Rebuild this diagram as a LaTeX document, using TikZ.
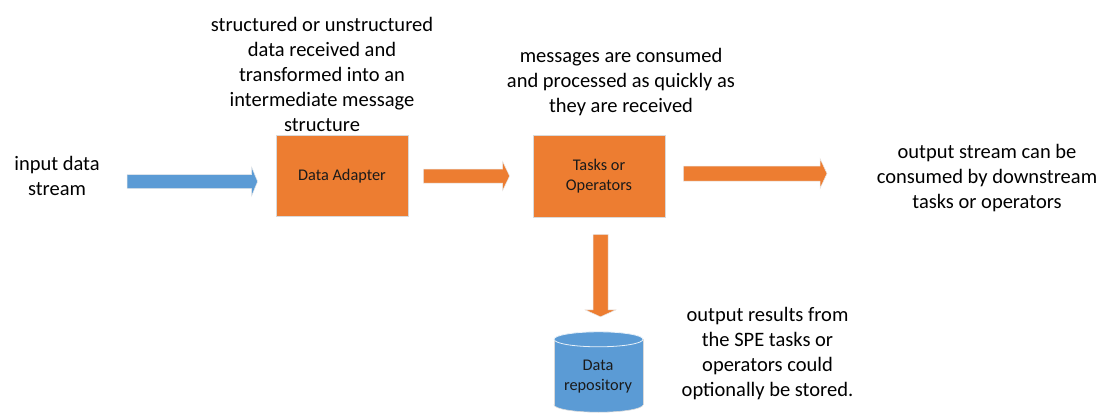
\documentclass[tikz,border=0pt]{standalone}
\usepackage{fontspec}
\setmainfont{Carlito}
\usetikzlibrary{calc}
\definecolor{accent}{HTML}{ED7D31}
\definecolor{flow}{HTML}{5B9BD5}
\definecolor{rim}{HTML}{D9D9D9}
\definecolor{ink}{HTML}{1A1A1A}

% horizontal block arrow: #1 tail, #2 tip, #3 colour, #4 shaft half, #5 head half, #6 head length
\newcommand\hblock[6]{%
  \path[blockarrow,fill=#3] let \p1=(#1), \p2=(#2) in
    (\x1,{\y1+#4pt}) -- ({\x2-#6pt},{\y1+#4pt}) -- ({\x2-#6pt},{\y1+#5pt}) --
    (\x2,\y1) -- ({\x2-#6pt},{\y1-#5pt}) -- ({\x2-#6pt},{\y1-#4pt}) --
    (\x1,{\y1-#4pt}) -- cycle;}
% vertical block arrow pointing down
\newcommand\vblock[6]{%
  \path[blockarrow,fill=#3] let \p1=(#1), \p2=(#2) in
    ({\x1-#4pt},\y1) -- ({\x1-#4pt},{\y2+#6pt}) -- ({\x1-#5pt},{\y2+#6pt}) --
    (\x1,\y2) -- ({\x1+#5pt},{\y2+#6pt}) -- ({\x1+#4pt},{\y2+#6pt}) --
    ({\x1+#4pt},\y1) -- cycle;}

\begin{document}
\begin{tikzpicture}[x=1pt,y=-1pt,
  note/.style={align=center,font=\fontsize{20.5}{25}\selectfont,text=black,inner sep=0pt},
  procbox/.style={draw=rim,line width=0.8pt,fill=accent,minimum width=132pt,minimum height=81pt,
    align=center,font=\fontsize{16.3}{19.5}\selectfont,text=ink},
  blockarrow/.style={draw=rim!60,line width=0.5pt},
  boxtext/.style={align=center,font=\fontsize{16.3}{19.5}\selectfont,text=ink,inner sep=0pt}]
\useasboundingbox (0,0) rectangle (1104,415);

% processing stages
\node[procbox] (adapter) at (342,176) {Data Adapter};
\node[procbox,minimum height=82pt] (tasks) at (599,176) {Tasks or\\Operators};

% storage cylinder
\node[boxtext,minimum width=89pt,minimum height=80pt] (repo) at (598.5,372) {};
\fill[flow,draw=rim,line width=0.6pt] ($(repo.south)+(0,-7.5)$) ellipse [x radius=44.5pt,y radius=7.5pt];
\fill[flow] ($(repo.north west)+(0,7.5)$) rectangle ($(repo.south east)+(0,-7.5)$);
\draw[rim,line width=0.6pt] ($(repo.north west)+(0,7.5)$) -- ($(repo.south west)+(0,-7.5)$)
  ($(repo.north east)+(0,7.5)$) -- ($(repo.south east)+(0,-7.5)$);
\fill[flow,draw=white!85!flow,line width=0.8pt] ($(repo.north)+(0,7.5)$) ellipse [x radius=44.5pt,y radius=7.5pt];
\node[boxtext] at (598,376.5) {Data\\repository};

% connector end points
\coordinate (inTail) at (127,181.5);
\coordinate (inTip) at ($(adapter.west)+(-18,5.5)$);
\coordinate (aTail) at ($(adapter.east)+(15,0)$);
\coordinate (aTip) at ($(tasks.west)+(-23,0)$);
\coordinate (oTail) at ($(tasks.east)+(18,-2.5)$);
\coordinate (oTip) at (827,173.5);
\coordinate (dTail) at ($(tasks.south)+(1.5,17)$);
\coordinate (dTip) at ($(repo.north)+(2,-15)$);

\hblock{inTail}{inTip}{flow}{7}{14.5}{6}
\hblock{aTail}{aTip}{accent}{7}{14.5}{7}
\hblock{oTail}{oTip}{accent}{7.5}{15}{7}
\vblock{dTail}{dTip}{accent}{7.5}{15.5}{7}

% annotations
\node[note] (nIn) at (57,176) {input data\\stream};
\node[note] (nAdapter) at (322,74) {structured or unstructured\\data received and\\transformed into an\\intermediate message\\structure};
\node[note] (nTasks) at (621,82) {messages are consumed\\and processed as quickly as\\they are received};
\node[note] (nOut) at (987,178) {output stream can be\\consumed by downstream\\tasks or operators};
\node[note] (nRepo) at (767.5,353.5) {output results from\\the SPE tasks or\\operators could\\optionally be stored.};
\end{tikzpicture}
\end{document}
